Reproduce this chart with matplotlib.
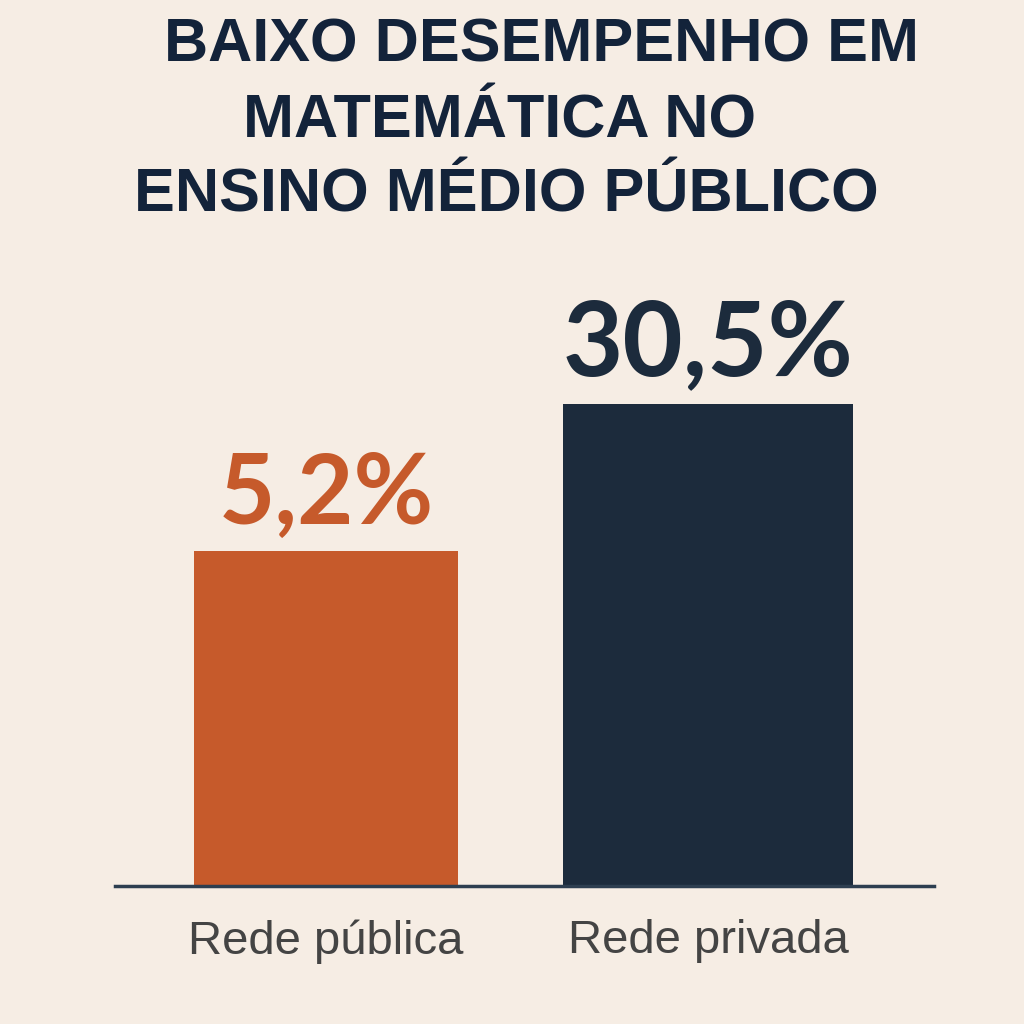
import matplotlib
matplotlib.use("Agg")
import matplotlib.pyplot as plt
from matplotlib import font_manager

# dados
categorias = ["Rede pública", "Rede privada"]
valores = [5.2, 30.5]
rotulos = ["5,2%", "30,5%"]
titulo = ["BAIXO DESEMPENHO EM", "MATEMÁTICA NO", "ENSINO MÉDIO PÚBLICO"]

BG = "#f6ede4"
CORES = ["#c65a2b", "#1c2b3c"]
NAVY = "#13233a"


def fam(*names):
    have = {f.name for f in font_manager.fontManager.ttflist}
    return [n for n in names if n in have] + ["DejaVu Sans"]


fig = plt.figure(figsize=(10.24, 10.24), dpi=100, facecolor=BG)
H = 1024.0

# eixo: linha de base em y=886 px, 194 px por década (escala log)
ax = fig.add_axes([115 / H, 138 / H, 819 / H, 776 / H])
ax.set_facecolor(BG)
ax.set_yscale("log")
ax.set_ylim(0.1, 1000)
ax.set_xlim(-0.5524, 1.5916)

larguras = [0.691, 0.759]
xs = range(len(categorias))
bars = ax.bar(xs, valores, width=larguras, color=CORES, bottom=0.1, zorder=2)

for b, v, lbl, c, fs in zip(bars, valores, rotulos, CORES, [70, 75]):
    ax.annotate(lbl, (b.get_x() + b.get_width() / 2, v), xytext=(0, 21),
                textcoords="offset points", ha="center", va="baseline",
                fontsize=fs, fontweight="bold", color=c,
                family=fam("Lato", "Inter"))

for s in ("top", "left", "right"):
    ax.spines[s].set_visible(False)
ax.spines["bottom"].set_color("#2d3e50")
ax.spines["bottom"].set_linewidth(2.5)
ax.set_yticks([])
ax.minorticks_off()
ax.set_xticks(list(xs))
ax.set_xticklabels(categorias, fontsize=34, color="#444444",
                   family=fam("Liberation Sans Narrow", "Liberation Sans"))
ax.tick_params(axis="x", length=0, pad=24)
ax.tick_params(axis="y", which="both", length=0)

# título, linha a linha
for linha, cx, by in zip(titulo, [542, 500, 506], [61, 137, 212]):
    fig.text(cx / H, 1 - by / H, linha, ha="center", va="baseline",
             fontsize=44, fontweight="bold", color=NAVY,
             family=fam("Liberation Sans Narrow", "Liberation Sans"))

fig.savefig("out.png", dpi=100, facecolor=BG)
